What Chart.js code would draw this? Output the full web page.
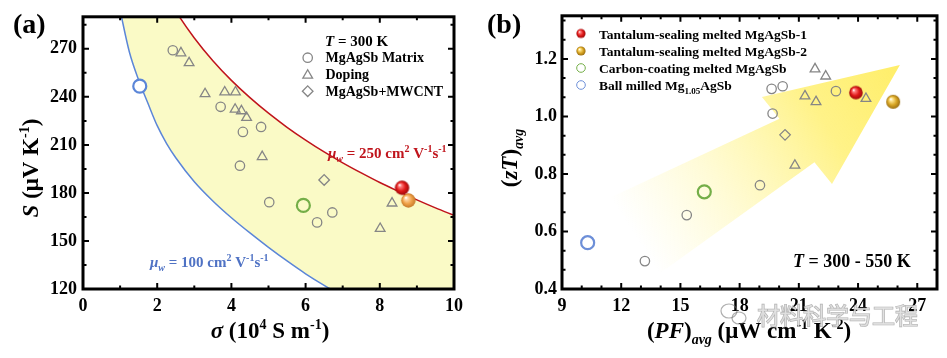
<!DOCTYPE html>
<html><head><meta charset="utf-8">
<script src="https://cdn.jsdelivr.net/npm/chart.js@4.4.1/dist/chart.umd.min.js"></script>
<style>
html,body{margin:0;padding:0;background:#fff;}
#wrap{position:relative;width:947px;height:358px;overflow:hidden;background:#fff;}
#ca{position:absolute;left:0;top:0;width:470px;height:358px;}
#cb{position:absolute;left:470px;top:0;width:477px;height:358px;}
</style></head><body>
<div id="wrap"><canvas id="ca" width="470" height="358"></canvas><canvas id="cb" width="477" height="358"></canvas></div>
<script>
// ---------- Panel (a): S vs sigma at 300 K ----------
const sigmaGrid = [1.0,1.25,1.5,1.75,2,2.25,2.5,3,3.5,4,4.5,5,5.5,6,6.5,7,7.5,8,8.5,9,9.5,10];
const sMu250 = [377.8,357.3,340.5,326.4,314.1,303.2,293.5,276.8,262.6,250.3,239.5,229.8,221.0,213.0,205.6,198.8,192.5,186.5,181.0,175.7,170.7,166.0];
const sMu100 = [294,268,250.5,236,222,211,202,187,175,164.5,155,146,137.5,129.5,122.3,115.8,109.5,103.6,98.1,92.9,88,83.3];
const matrixSigma = [2.42,3.71,4.31,4.80,4.23,5.02,6.31,6.72];
const matrixS     = [269.1,233.8,218.1,221.2,197.0,174.2,161.6,167.8];
const dopingSigma = [2.64,2.86,3.29,3.82,4.11,4.10,4.27,4.41,4.83,8.33,8.01];
const dopingS     = [267.4,261.2,241.9,243.0,243.0,232.2,231.2,227.0,202.6,173.6,157.7];
const cntSigma = [6.50];
const cntS     = [188.1];
const ta1Sigma = [8.60], ta1S = [183.2];
const ta2Sigma = [8.77], ta2S = [175.3];
const carbonSigma = [5.94], carbonS = [172.2];
const ballSigma = [1.53], ballS = [246.7];
const xTicksA = [0,2,4,6,8,10], xMinorA = [1,3,5,7,9];
const yTicksA = [120,150,180,210,240,270], yMinorA = [135,165,195,225,255,285];

// ---------- Panel (b): zT_avg vs PF_avg ----------
const matrixPF = [19.62,20.18,19.67,22.88,19.03,15.32,13.20];
const matrixZT = [1.096,1.105,1.010,1.088,0.761,0.657,0.497];
const dopingPF = [21.82,22.36,21.31,21.87,24.40,20.80];
const dopingZT = [1.165,1.140,1.071,1.051,1.062,0.830];
const cntPF = [20.30], cntZT = [0.936];
const ta1PF = [23.89], ta1ZT = [1.083];
const ta2PF = [25.78], ta2ZT = [1.051];
const carbonPF = [16.21], carbonZT = [0.738];
const ballPF = [10.30], ballZT = [0.561];
const arrowPF = [26.12,19.13,20.02,11.43,13.96,21.79,22.68];
const arrowZT = [1.179,1.068,0.992,0.717,0.455,0.841,0.765];
const xTicksB = [9,12,15,18,21,24,27], xMinorB = [10,11,13,14,16,17,19,20,22,23,25,26];
const yTicksB = [0.4,0.6,0.8,1.0,1.2], yMinorB = [0.4667,0.5333,0.6667,0.7333,0.8667,0.9333,1.0667,1.1333,1.2667,1.3333];

const legendA = ['MgAgSb Matrix','Doping','MgAgSb+MWCNT'];
const legendB = ['Tantalum-sealing melted MgAgSb-1','Tantalum-sealing melted MgAgSb-2','Carbon-coating melted MgAgSb','Ball milled Mg'];

// ---------- helpers ----------
const SERIF = '"Liberation Serif","Times New Roman",serif';
const F = (s, it) => (it ? 'italic ' : '') + 'bold ' + s + 'px ' + SERIF;
const GRAY = '#868686';
const pts = (xs, ys) => xs.map((v, i) => ({x: v, y: ys[i]}));

function sphere(r, light, base, dark) {
  const c = document.createElement('canvas');
  const s = Math.ceil(2 * r + 2); c.width = s; c.height = s;
  const g = c.getContext('2d');
  const cx = s / 2, cy = s / 2;
  const gr = g.createRadialGradient(cx - r * 0.35, cy - r * 0.4, r * 0.05, cx, cy, r);
  gr.addColorStop(0, '#ffffff');
  gr.addColorStop(0.18, light);
  gr.addColorStop(0.6, base);
  gr.addColorStop(1, dark);
  g.fillStyle = gr; g.beginPath(); g.arc(cx, cy, r, 0, Math.PI * 2); g.fill();
  return c;
}
const redBig = sphere(7.2, '#ff8080', '#e01818', '#9c0a0a');
const orangeBig = sphere(7.2, '#ffd8a8', '#f0a24a', '#c67a2a');
const redR = sphere(6.8, '#ff8080', '#e01818', '#9c0a0a');
const goldR = sphere(7.0, '#ffe690', '#d9a624', '#9a6e10');
const redSm = sphere(4.6, '#ff8080', '#e01818', '#9c0a0a');
const goldSm = sphere(4.6, '#ffe690', '#d9a624', '#9a6e10');

function rich(ctx, runs, x, y, align, rot) {
  ctx.save();
  ctx.translate(x, y); if (rot) ctx.rotate(rot);
  let w = 0;
  for (const r of runs) { ctx.font = r.f; r.w = ctx.measureText(r.t).width; w += r.w; }
  let cx = align === 'center' ? -w / 2 : (align === 'right' ? -w : 0);
  ctx.textBaseline = 'alphabetic'; ctx.textAlign = 'left';
  for (const r of runs) { ctx.font = r.f; ctx.fillStyle = r.c || '#000'; ctx.fillText(r.t, cx, r.dy || 0); cx += r.w; }
  ctx.restore();
  return w;
}

function marker(ctx, kind, x, y, r, color, lw) {
  ctx.save(); ctx.strokeStyle = color; ctx.lineWidth = lw; ctx.beginPath();
  if (kind === 'circle') ctx.arc(x, y, r, 0, Math.PI * 2);
  else if (kind === 'triangle') {
    for (let k = 0; k < 3; k++) { const a = k * 2 * Math.PI / 3; const px = x + Math.sin(a) * r, py = y - Math.cos(a) * r; k ? ctx.lineTo(px, py) : ctx.moveTo(px, py); }
    ctx.closePath();
  } else if (kind === 'diamond') {
    ctx.moveTo(x, y - r); ctx.lineTo(x + r, y); ctx.lineTo(x, y + r); ctx.lineTo(x - r, y); ctx.closePath();
  }
  ctx.stroke(); ctx.restore();
}

function frameTicks(chart, xM, xm, yM, ym) {
  const {ctx, chartArea: a, scales: {x, y}} = chart;
  ctx.save(); ctx.strokeStyle = '#000'; ctx.lineWidth = 2; ctx.beginPath();
  const tx = (v, L) => { const p = x.getPixelForValue(v); ctx.moveTo(p, a.bottom); ctx.lineTo(p, a.bottom - L); ctx.moveTo(p, a.top); ctx.lineTo(p, a.top + L); };
  const ty = (v, L) => { const p = y.getPixelForValue(v); ctx.moveTo(a.left, p); ctx.lineTo(a.left + L, p); ctx.moveTo(a.right, p); ctx.lineTo(a.right - L, p); };
  xM.forEach(v => tx(v, 6)); xm.forEach(v => tx(v, 3.5));
  yM.forEach(v => ty(v, 6)); ym.forEach(v => ty(v, 3.5));
  ctx.stroke();
  ctx.lineWidth = 3; ctx.strokeRect(a.left, a.top, a.right - a.left, a.bottom - a.top);
  ctx.restore();
}

const tickFont = {family: SERIF, size: 18, weight: 'bold'};
function axis(min, max, list, pad, fmt) {
  return {
    type: 'linear', min, max,
    grid: {display: false, drawTicks: false}, border: {display: false},
    ticks: {font: tickFont, color: '#000', padding: pad, autoSkip: false, maxRotation: 0, includeBounds: false,
            callback: fmt || (v => String(v))},
    afterBuildTicks: s => { s.ticks = list.map(v => ({value: v})); }
  };
}

// ---------- Chart (a) ----------
const decorA = {
  id: 'decorA',
  afterDraw(chart) {
    const ctx = chart.ctx;
    frameTicks(chart, xTicksA, xMinorA, yTicksA, yMinorA);
    rich(ctx, [{t: '(a)', f: F(28)}], 13, 33, 'left');
    rich(ctx, [{t: '\u03c3', f: F(23, true)}, {t: ' (10', f: F(23)}, {t: '4', f: F(14), dy: -9}, {t: ' S m', f: F(23)}, {t: '-1', f: F(14), dy: -9}, {t: ')', f: F(23)}], 270, 338, 'center');
    rich(ctx, [{t: 'S', f: F(23, true)}, {t: ' (\u03bcV K', f: F(23)}, {t: '-1', f: F(14), dy: -9}, {t: ')', f: F(23)}], 38, 168, 'center', -Math.PI / 2);
    const red = '#c0141c', blue = '#4f72c4';
    rich(ctx, [{t: '\u03bc', f: F(15, true), c: red}, {t: 'w', f: F(10, true), dy: 4, c: red}, {t: ' = 250 cm', f: F(15), c: red}, {t: '2', f: F(10), dy: -6, c: red}, {t: ' V', f: F(15), c: red}, {t: '-1', f: F(10), dy: -6, c: red}, {t: 's', f: F(15), c: red}, {t: '-1', f: F(10), dy: -6, c: red}], 328, 158, 'left');
    rich(ctx, [{t: '\u03bc', f: F(15, true), c: blue}, {t: 'w', f: F(10, true), dy: 4, c: blue}, {t: ' = 100 cm', f: F(15), c: blue}, {t: '2', f: F(10), dy: -6, c: blue}, {t: ' V', f: F(15), c: blue}, {t: '-1', f: F(10), dy: -6, c: blue}, {t: 's', f: F(15), c: blue}, {t: '-1', f: F(10), dy: -6, c: blue}], 150, 267, 'left');
    rich(ctx, [{t: 'T', f: F(15, true)}, {t: ' = 300 K', f: F(15)}], 325, 46, 'left');
    const rows = [57.7, 74.3, 91.2];
    marker(ctx, 'circle', 307.7, rows[0], 4.7, GRAY, 1.3);
    marker(ctx, 'triangle', 307.7, rows[1] + 1, 5.6, GRAY, 1.3);
    marker(ctx, 'diamond', 307.7, rows[2], 5.3, GRAY, 1.3);
    legendA.forEach((t, i) => rich(ctx, [{t, f: F(14)}], 325.5, rows[i] + 4.5, 'left'));
  }
};

new Chart(document.getElementById('ca'), {
  type: 'line',
  data: {datasets: [
    {label: 'mu250', data: pts(sigmaGrid, sMu250), borderColor: '#c0141c', borderWidth: 1.5, pointRadius: 0, cubicInterpolationMode: 'monotone', fill: '+1', backgroundColor: '#fafac6', order: 10},
    {label: 'mu100', data: pts(sigmaGrid, sMu100), borderColor: '#5b86d8', borderWidth: 1.5, pointRadius: 0, cubicInterpolationMode: 'monotone', fill: false, order: 9},
    {label: legendA[0], data: pts(matrixSigma, matrixS), showLine: false, pointStyle: 'circle', pointRadius: 4.7, borderColor: GRAY, borderWidth: 1.3, backgroundColor: 'rgba(0,0,0,0)', order: 2},
    {label: legendA[1], data: pts(dopingSigma, dopingS), showLine: false, pointStyle: 'triangle', pointRadius: 5.6, borderColor: GRAY, borderWidth: 1.3, backgroundColor: 'rgba(0,0,0,0)', order: 2},
    {label: legendA[2], data: pts(cntSigma, cntS), showLine: false, pointStyle: 'rectRot', pointRadius: 5.3, borderColor: GRAY, borderWidth: 1.3, backgroundColor: 'rgba(0,0,0,0)', order: 2},
    {label: 'carbon', data: pts(carbonSigma, carbonS), showLine: false, pointStyle: 'circle', pointRadius: 6.5, borderColor: '#74ae48', borderWidth: 2.2, backgroundColor: 'rgba(0,0,0,0)', order: 1},
    {label: 'ball', data: pts(ballSigma, ballS), showLine: false, pointStyle: 'circle', pointRadius: 6.5, borderColor: '#5b86d8', borderWidth: 2.2, backgroundColor: '#ffffff', order: 1},
    {label: 'ta2', data: pts(ta2Sigma, ta2S), showLine: false, pointStyle: orangeBig, pointRadius: 7, order: 1},
    {label: 'ta1', data: pts(ta1Sigma, ta1S), showLine: false, pointStyle: redBig, pointRadius: 7, order: 0}
  ]},
  options: {
    responsive: false, animation: false, devicePixelRatio: 1, events: [],
    layout: {padding: {left: 0, top: 15, right: 13, bottom: 0}},
    plugins: {legend: {display: false}, tooltip: {enabled: false}},
    scales: {
      x: Object.assign(axis(0, 10, xTicksA, 7), {afterFit: s => { s.height = 69; }}),
      y: Object.assign(axis(120, 290, yTicksA, 6), {afterFit: s => { s.width = 83; }})
    }
  },
  plugins: [decorA]
});

// ---------- Chart (b) ----------
const decorB = {
  id: 'decorB',
  beforeDatasetsDraw(chart) {
    const {ctx, chartArea: a, scales: {x, y}} = chart;
    const P = arrowPF.map((v, i) => [x.getPixelForValue(v), y.getPixelForValue(arrowZT[i])]);
    const tail = [(P[3][0] + P[4][0]) / 2, (P[3][1] + P[4][1]) / 2];
    const g = ctx.createLinearGradient(tail[0], tail[1], P[0][0], P[0][1]);
    g.addColorStop(0, 'rgba(255,246,150,0)');
    g.addColorStop(0.3, 'rgba(255,244,140,0.35)');
    g.addColorStop(0.7, 'rgba(255,240,115,0.85)');
    g.addColorStop(1, 'rgba(255,238,105,1)');
    ctx.save();
    ctx.beginPath(); ctx.rect(a.left, a.top, a.right - a.left, a.bottom - a.top); ctx.clip();
    ctx.beginPath();
    P.forEach((p, i) => i ? ctx.lineTo(p[0], p[1]) : ctx.moveTo(p[0], p[1]));
    ctx.closePath(); ctx.fillStyle = g; ctx.fill();
    ctx.restore();
  },
  afterDraw(chart) {
    const ctx = chart.ctx;
    frameTicks(chart, xTicksB, xMinorB, yTicksB, yMinorB);
    rich(ctx, [{t: '(b)', f: F(28)}], 17, 33, 'left');
    rich(ctx, [{t: '(', f: F(23)}, {t: 'PF', f: F(23, true)}, {t: ')', f: F(23)}, {t: 'avg', f: F(14, true), dy: 6}, {t: ' (\u03bcW cm', f: F(23)}, {t: '-1', f: F(14), dy: -9}, {t: ' K', f: F(23)}, {t: '-2', f: F(14), dy: -9}, {t: ')', f: F(23)}], 279, 338, 'center');
    rich(ctx, [{t: '(', f: F(23)}, {t: 'zT', f: F(23, true)}, {t: ')', f: F(23)}, {t: 'avg', f: F(14, true), dy: 6}], 47, 158, 'center', -Math.PI / 2);
    rich(ctx, [{t: 'T', f: F(18, true)}, {t: ' = 300 - 550 K', f: F(18)}], 323, 267, 'left');
    const rows = [33.5, 51, 68, 85];
    ctx.drawImage(redSm, 111 - redSm.width / 2, rows[0] - redSm.height / 2);
    ctx.drawImage(goldSm, 111 - goldSm.width / 2, rows[1] - goldSm.height / 2);
    marker(ctx, 'circle', 111, rows[2], 4.3, '#74ae48', 1);
    marker(ctx, 'circle', 111, rows[3], 4.3, '#6d8fd8', 1);
    for (let i = 0; i < 3; i++) rich(ctx, [{t: legendB[i], f: F(13.5)}], 129, rows[i] + 5, 'left');
    rich(ctx, [{t: legendB[3], f: F(13.5)}, {t: '1.05', f: F(9), dy: 4}, {t: 'AgSb', f: F(13.5)}], 129, rows[3] + 5, 'left');
    ctx.save();
    ctx.font = '23px "Noto Sans CJK SC", sans-serif';
    ctx.textBaseline = 'middle';
    ctx.lineWidth = 1.2; ctx.strokeStyle = 'rgba(110,110,110,0.55)'; ctx.fillStyle = 'rgba(225,225,225,0.85)';
    ctx.strokeText('\u6750\u6599\u79d1\u5b66\u4e0e\u5de5\u7a0b', 287, 315);
    ctx.fillText('\u6750\u6599\u79d1\u5b66\u4e0e\u5de5\u7a0b', 287, 315);
    ctx.beginPath(); ctx.ellipse(259, 311, 8, 7, 0, 0, Math.PI * 2); ctx.stroke();
    ctx.beginPath(); ctx.ellipse(269, 318, 7, 6, 0, 0, Math.PI * 2); ctx.stroke();
    ctx.restore();
  }
};

new Chart(document.getElementById('cb'), {
  type: 'line',
  data: {datasets: [
    {label: 'matrix', data: pts(matrixPF, matrixZT), showLine: false, pointStyle: 'circle', pointRadius: 4.7, borderColor: GRAY, borderWidth: 1.3, backgroundColor: 'rgba(0,0,0,0)', order: 2},
    {label: 'doping', data: pts(dopingPF, dopingZT), showLine: false, pointStyle: 'triangle', pointRadius: 5.6, borderColor: GRAY, borderWidth: 1.3, backgroundColor: 'rgba(0,0,0,0)', order: 2},
    {label: 'cnt', data: pts(cntPF, cntZT), showLine: false, pointStyle: 'rectRot', pointRadius: 5.3, borderColor: GRAY, borderWidth: 1.3, backgroundColor: 'rgba(0,0,0,0)', order: 2},
    {label: legendB[0], data: pts(ta1PF, ta1ZT), showLine: false, pointStyle: redR, pointRadius: 7, order: 0},
    {label: legendB[1], data: pts(ta2PF, ta2ZT), showLine: false, pointStyle: goldR, pointRadius: 7, order: 0},
    {label: legendB[2], data: pts(carbonPF, carbonZT), showLine: false, pointStyle: 'circle', pointRadius: 6.5, borderColor: '#74ae48', borderWidth: 2.2, backgroundColor: 'rgba(0,0,0,0)', order: 1},
    {label: legendB[3], data: pts(ballPF, ballZT), showLine: false, pointStyle: 'circle', pointRadius: 6.5, borderColor: '#6d8fd8', borderWidth: 2.2, backgroundColor: 'rgba(0,0,0,0)', order: 1}
  ]},
  options: {
    responsive: false, animation: false, devicePixelRatio: 1, events: [],
    layout: {padding: {left: 0, top: 13, right: 10, bottom: 0}},
    plugins: {legend: {display: false}, tooltip: {enabled: false}},
    scales: {
      x: Object.assign(axis(9, 28, xTicksB, 7), {afterFit: s => { s.height = 69; }}),
      y: Object.assign(axis(0.4, 1.35, yTicksB, 5, v => v.toFixed(1)), {afterFit: s => { s.width = 92; }})
    }
  },
  plugins: [decorB]
});
</script></body></html>
